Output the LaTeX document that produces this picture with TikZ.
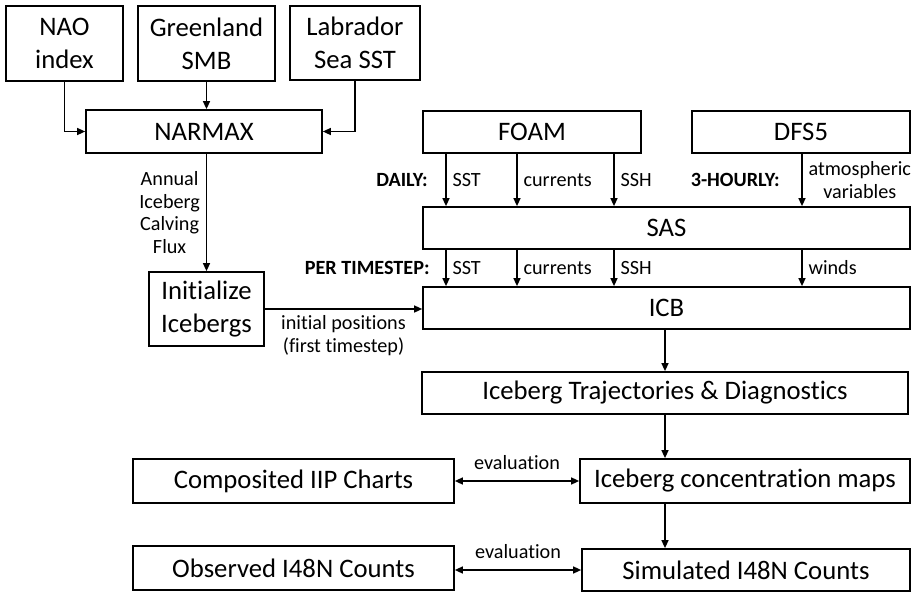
\documentclass[tikz,border=0pt]{standalone}
\usepackage{fontspec}
\setmainfont{Carlito}[Ligatures=NoCommon]
\usepackage{tikz}
\usetikzlibrary{arrows.meta}

\begin{document}
\begin{tikzpicture}[x=0.02cm, y=-0.02cm, >={Triangle[length=1.6mm, width=1.4mm]},
    box/.style={draw, rectangle, line width=1pt, inner sep=0pt, align=center, font=\fontsize{15.2}{18.8}\selectfont},
    lbl/.style={font=\fontsize{11.5}{13}\selectfont, align=center},
    tag/.style={font=\fontsize{11.5}{13}\selectfont\bfseries, inner sep=0pt}]
    \useasboundingbox (0,0) rectangle (921,592);

    % Inputs to NARMAX
    \node[box, minimum width=2.34cm, minimum height=1.5cm] (nao) at (64.5,43.5) {NAO\\index};
    \node[box, minimum width=2.74cm, minimum height=1.5cm] (smb) at (206.5,43.5) {Greenland\\SMB};
    \node[box, minimum width=2.6cm, minimum height=1.48cm] (lab) at (355,43) {Labrador\\Sea SST};
    \node[box, minimum width=4.72cm, minimum height=0.86cm] (narmax) at (204,131.5) {NARMAX};

    % Forcing and models
    \node[box, minimum width=4.36cm, minimum height=0.84cm] (foam) at (532,132) {FOAM};
    \node[box, minimum width=4.36cm, minimum height=0.84cm] (dfs) at (801,132) {DFS5};
    \node[box, minimum width=9.74cm, minimum height=0.84cm] (sas) at (666.5,228) {SAS};
    \node[box, minimum width=9.74cm, minimum height=0.84cm] (icb) at (666.5,308) {ICB};
    \node[box, minimum width=2.3cm, minimum height=1.48cm] (init) at (206.5,309) {Initialize\\Icebergs};

    % Outputs
    \node[box, minimum width=9.72cm, minimum height=0.84cm] (traj) at (665,393) {Iceberg Trajectories \& Diagnostics};
    \node[box, minimum width=6.6cm, minimum height=0.88cm] (conc) at (745,481) {Iceberg concentration maps};
    \node[box, minimum width=6.42cm, minimum height=0.88cm] (iip) at (293.5,481) {Composited IIP Charts};
    \node[box, minimum width=6.42cm, minimum height=0.88cm] (obs) at (293.5,568) {Observed I48N Counts};
    \node[box, minimum width=6.56cm, minimum height=0.84cm] (sim) at (746,570) {Simulated I48N Counts};

    % Frequency tags
    \node[tag, anchor=east] (daily) at (428,180) {DAILY:};
    \node[tag, anchor=east] (hourly) at (780,180) {3-HOURLY:};
    \node[tag, anchor=east] (pertime) at (430,268) {PER TIMESTEP:};

    % Edges
    \draw[->, thick] (nao.south) |- (narmax.west);
    \draw[->, thick] (lab.south) |- (narmax.east);
    \draw[->, thick] (smb.south) -- (smb.south |- narmax.north);
    \draw[->, thick] (init.north |- narmax.south) -- (init.north)
        node[lbl, midway, left] {Annual\\Iceberg\\Calving\\Flux};
    \foreach \x/\var in {446/SST, 517/currents, 614/SSH} {
        \draw[->, thick] (\x,0 |- foam.south) -- (\x,0 |- sas.north) node[lbl, midway, right] {\var};
        \draw[->, thick] (\x,0 |- sas.south) -- (\x,0 |- icb.north) node[lbl, midway, right] {\var};
    }
    \draw[->, thick] (802,0 |- dfs.south) -- (802,0 |- sas.north)
        node[lbl, midway, right] {atmospheric\\variables};
    \draw[->, thick] (802,0 |- sas.south) -- (802,0 |- icb.north) node[lbl, midway, right] {winds};
    \draw[->, thick] (init.east) -- (init.east -| icb.west)
        node[lbl, midway, below] {initial positions\\(first timestep)};
    \draw[->, thick] (traj.north |- icb.south) -- (traj.north);
    \draw[->, thick] (traj.south) -- (traj.south |- conc.north);
    \draw[->, thick] (traj.south |- conc.south) -- (traj.south |- sim.north);
    \draw[<->, thick] (iip.east) -- (conc.west) node[lbl, midway, above=3pt] {evaluation};
    \draw[<->, thick] (obs.east |- sim.west) -- (sim.west) node[lbl, midway, above=3pt] {evaluation};
\end{tikzpicture}
\end{document}
